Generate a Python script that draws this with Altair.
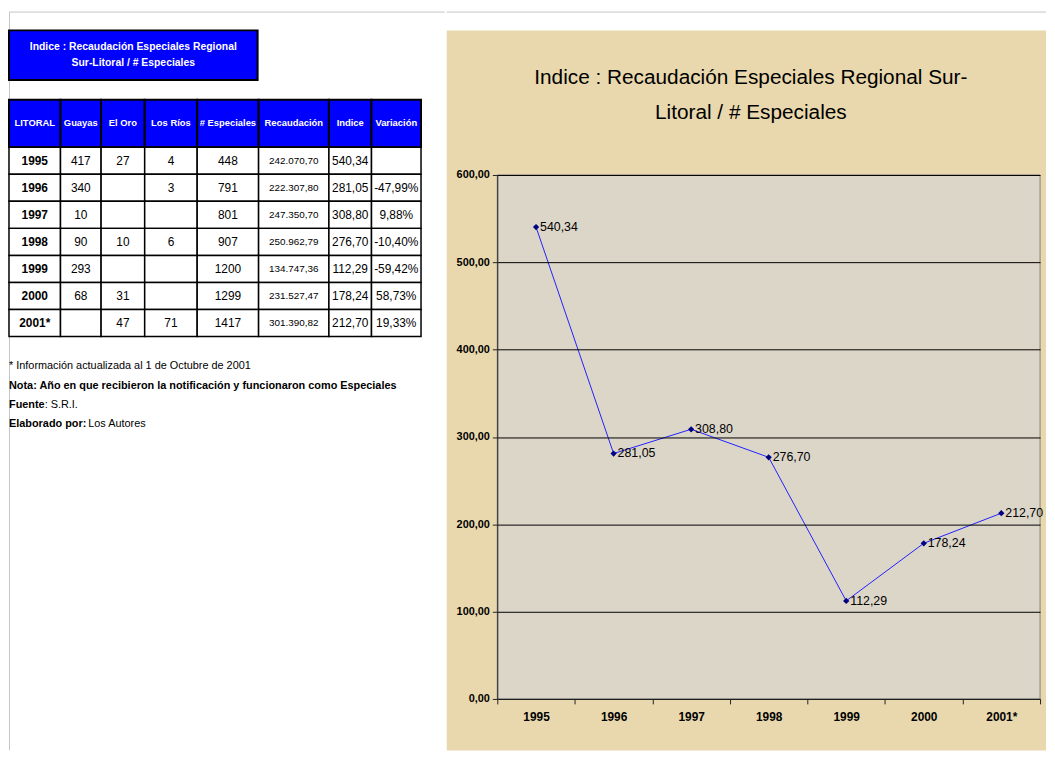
import altair as alt
import pandas as pd

# ---------------- data ----------------
years = ["1995", "1996", "1997", "1998", "1999", "2000", "2001*"]
guayas = [417, 340, 10, 90, 293, 68, None]
el_oro = [27, None, None, 10, None, 31, 47]
los_rios = [4, 3, None, 6, None, None, 71]
especiales = [448, 791, 801, 907, 1200, 1299, 1417]
recaudacion = [242070.70, 222307.80, 247350.70, 250962.79, 134747.36, 231527.47, 301390.82]
indice = [540.34, 281.05, 308.80, 276.70, 112.29, 178.24, 212.70]
variacion = [None, -47.99, 9.88, -10.40, -59.42, 58.73, 19.33]
headers = ["LITORAL", "Guayas", "El Oro", "Los Ríos", "# Especiales", "Recaudación", "Indice", "Variación"]

chart_title = ["Indice : Recaudación Especiales Regional Sur-", "Litoral / # Especiales"]
box_title = ["Indice :  Recaudación Especiales Regional", "Sur-Litoral / # Especiales"]
note_plain = ["* Información actualizada al 1 de Octubre de 2001", ": S.R.I.", "Los Autores"]
note_bold = ["Nota: Año en que recibieron la notificación y funcionaron como Especiales", "Fuente", "Elaborado por:"]
y_ticks = [0, 100, 200, 300, 400, 500, 600]

# ---------------- style / layout ----------------
FONT = "Liberation Sans, Arial, sans-serif"
BLUE = "#0000ff"
TAN = "#e9d8ad"
PLOT_BG = "#dcd6c8"
COL_W = [52, 41, 44, 53, 62, 71, 43, 50]
TX0 = 8
HEAD_Y0, HEAD_Y1 = 97, 145
ROW_H = 27.3
LW = 440                   # left panel width
W, H = 548, 529            # right plot area
TOP = 173                  # page y of plot top (shared origin)
TAN_R = 554                # right edge of the tan panel, relative to plot origin
BOTTOM = 581               # lowest drawn y, relative to plot origin


def es(v, dec=2, thousands=True):
    s = f"{v:,.{dec}f}" if thousands else f"{v:.{dec}f}"
    return s.replace(",", "X").replace(".", ",").replace("X", ".")


def txt(v):
    return "" if v is None else str(v)


# ---------------- table cells ----------------
edges = [TX0]
for w in COL_W:
    edges.append(edges[-1] + w)

rows_txt = []
for i, yr in enumerate(years):
    rows_txt.append([
        yr, txt(guayas[i]), txt(el_oro[i]), txt(los_rios[i]), str(especiales[i]),
        es(recaudacion[i]), es(indice[i], thousands=False),
        "" if variacion[i] is None else es(variacion[i], thousands=False) + "%",
    ])

cells = []
for c, h in enumerate(headers):
    cells.append(dict(kind="head", x=edges[c], x2=edges[c + 1], y=HEAD_Y0, y2=HEAD_Y1,
                      xc=(edges[c] + edges[c + 1]) / 2, yc=(HEAD_Y0 + HEAD_Y1) / 2, t=h))
for r, row in enumerate(rows_txt):
    y0 = HEAD_Y1 + r * ROW_H
    for c, t in enumerate(row):
        kind = "year" if c == 0 else ("rec" if c == 5 else "body")
        cells.append(dict(kind=kind, x=edges[c], x2=edges[c + 1], y=y0, y2=y0 + ROW_H,
                          xc=(edges[c] + edges[c + 1]) / 2, yc=y0 + ROW_H / 2, t=t))
cells_df = pd.DataFrame(cells)

box_df = pd.DataFrame([dict(x=TX0, x2=259, y=27, y2=77)])
box_txt_df = pd.DataFrame([dict(xc=(TX0 + 259) / 2, yc=44, t=box_title[0]),
                           dict(xc=(TX0 + 259) / 2, yc=60, t=box_title[1])])
notes_b_df = pd.DataFrame([dict(x=8, y=386, t=note_bold[0]), dict(x=8, y=405, t=note_bold[1]),
                           dict(x=8, y=424, t=note_bold[2])])
notes_p_df = pd.DataFrame([dict(x=8, y=366, t=note_plain[0]), dict(x=44, y=405, t=note_plain[1]),
                           dict(x=88, y=424, t=note_plain[2])])

xs = alt.Scale(domain=[TX0, TX0 + LW], nice=False, zero=False)
ys = alt.Scale(domain=[TOP, TOP + H], nice=False, zero=False, reverse=True)


def X(f):
    return alt.X(f, type="quantitative", scale=xs, axis=None)


def Y(f):
    return alt.Y(f, type="quantitative", scale=ys, axis=None)


one = pd.DataFrame({"k": [0]})

frame_v = alt.Chart(one).mark_rule(color="#c4c4c4", strokeWidth=1).encode(
    x=alt.value(0.5), y=alt.value(-164.5), y2=alt.value(BOTTOM))
frame_h = alt.Chart(one).mark_rule(color="#c4c4c4", strokeWidth=1).encode(
    x=alt.value(0.5), x2=alt.value(LW), y=alt.value(-164.5))

box = alt.Chart(box_df).mark_rect(fill=BLUE, stroke="black", strokeWidth=2).encode(
    x=X("x"), x2="x2", y=Y("y"), y2="y2")
box_txt = alt.Chart(box_txt_df).mark_text(color="white", font=FONT, fontSize=10.5, fontWeight="bold").encode(
    x=X("xc"), y=Y("yc"), text="t:N")

head_rect = alt.Chart(cells_df).transform_filter("datum.kind == 'head'").mark_rect(
    fill=BLUE, stroke="black", strokeWidth=2).encode(x=X("x"), x2="x2", y=Y("y"), y2="y2")
body_rect = alt.Chart(cells_df).transform_filter("datum.kind != 'head'").mark_rect(
    fill="white", stroke="black", strokeWidth=1.5).encode(x=X("x"), x2="x2", y=Y("y"), y2="y2")
head_txt = alt.Chart(cells_df).transform_filter("datum.kind == 'head'").mark_text(
    color="white", font=FONT, fontSize=9.5, fontWeight="bold").encode(x=X("xc"), y=Y("yc"), text="t:N")
year_txt = alt.Chart(cells_df).transform_filter("datum.kind == 'year'").mark_text(
    color="black", font=FONT, fontSize=12, fontWeight="bold").encode(x=X("xc"), y=Y("yc"), text="t:N")
body_txt = alt.Chart(cells_df).transform_filter("datum.kind == 'body'").mark_text(
    color="black", font=FONT, fontSize=12).encode(x=X("xc"), y=Y("yc"), text="t:N")
rec_txt = alt.Chart(cells_df).transform_filter("datum.kind == 'rec'").mark_text(
    color="black", font=FONT, fontSize=10).encode(x=X("xc"), y=Y("yc"), text="t:N")

notes_b = alt.Chart(notes_b_df).mark_text(align="left", color="black", font=FONT, fontSize=11,
                                          fontWeight="bold").encode(x=X("x"), y=Y("y"), text="t:N")
notes_p = alt.Chart(notes_p_df).mark_text(align="left", color="black", font=FONT, fontSize=11).encode(
    x=X("x"), y=Y("y"), text="t:N")

left = alt.layer(frame_v, frame_h, box, box_txt, head_rect, body_rect, head_txt, year_txt, body_txt,
                 rec_txt, notes_b, notes_p).properties(width=LW, height=H,
                                                      view=alt.ViewBackground(stroke=None))

# ---------------- line chart ----------------
line_df = pd.DataFrame({"year": years, "indice": indice})

xenc = alt.X("year:N", sort=years,
             scale=alt.Scale(type="band", domain=years, paddingInner=0, paddingOuter=0),
             axis=alt.Axis(title=None, labelAngle=0, labelFont=FONT, labelFontSize=12,
                           labelFontWeight="bold", labelColor="black", tickBand="extent",
                           tickSize=5, tickColor="#222", domainColor="#222", labelPadding=8,
                           grid=False, zindex=1))
yenc = alt.Y("indice:Q", scale=alt.Scale(domain=[0, 600], nice=False, zero=True),
             axis=alt.Axis(title=None, values=y_ticks,
                           labelExpr="replace(format(datum.value, '.2f'), '.', ',')",
                           labelFont=FONT, labelFontSize=11, labelFontWeight="bold", labelColor="black",
                           tickSize=5, tickColor="#222", domainColor="#222", labelPadding=3,
                           grid=True, gridColor="black", gridWidth=1, gridOpacity=1, zindex=1))

tan_bg = alt.Chart(one).mark_rect(fill=TAN).encode(
    x=alt.value(-51), x2=alt.value(TAN_R), y=alt.value(-146), y2=alt.value(BOTTOM))
top_rule = alt.Chart(one).mark_rule(color="#c4c4c4", strokeWidth=1).encode(
    x=alt.value(-51), x2=alt.value(TAN_R), y=alt.value(-164.5))
plot_bg = alt.Chart(one).mark_rect(fill=PLOT_BG, stroke="#808080", strokeWidth=1).encode(
    x=alt.value(0), x2=alt.value(W), y=alt.value(0), y2=alt.value(H))
title1 = alt.Chart(one).mark_text(text=chart_title[0], font=FONT, fontSize=21, color="black",
                                  align="center", baseline="middle").encode(
    x=alt.value(256), y=alt.value(-98))
title2 = alt.Chart(one).mark_text(text=chart_title[1], font=FONT, fontSize=21, color="black",
                                  align="center", baseline="middle").encode(
    x=alt.value(256), y=alt.value(-63))

base = alt.Chart(line_df).transform_calculate(
    lab="replace(format(datum.indice, '.2f'), '.', ',')")
line = base.mark_line(color="#2020ff", strokeWidth=1).encode(x=xenc, y=yenc)
pts = base.mark_point(shape="diamond", filled=True, color="#000080", size=40, opacity=1).encode(
    x=xenc, y=yenc)
labels = base.mark_text(align="left", baseline="middle", dx=4, font=FONT, fontSize=12.5,
                        color="black").encode(x=xenc, y=yenc, text="lab:N")

right = alt.layer(tan_bg, top_rule, title1, title2, plot_bg, line, pts, labels).properties(
    width=W, height=H)

chart = alt.hconcat(left, right, spacing=0).properties(
    padding={"left": 0, "top": 0, "right": 0, "bottom": 0}
).configure_view(stroke=None)

chart.save("out.html", embed_options={"renderer": "svg", "actions": False})
